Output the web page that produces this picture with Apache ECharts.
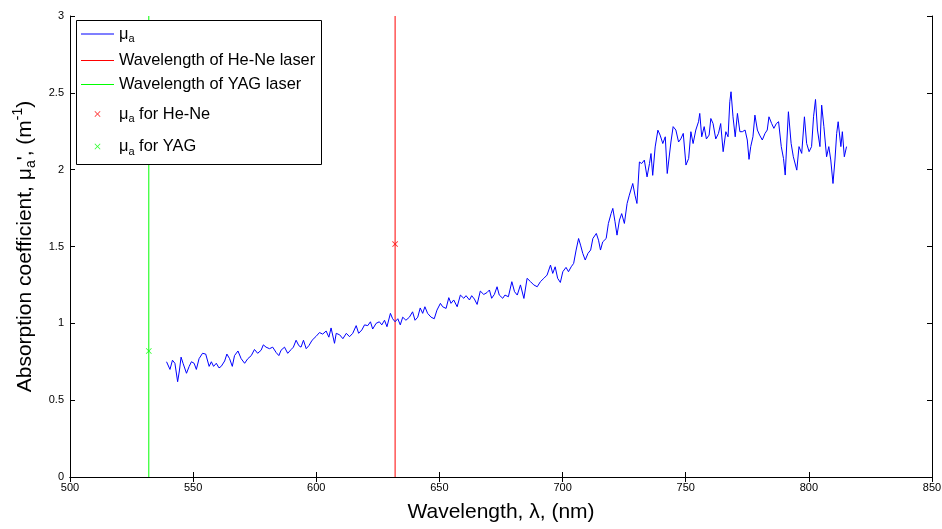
<!DOCTYPE html>
<html>
<head>
<meta charset="utf-8">
<script src="https://cdn.jsdelivr.net/npm/echarts@6/dist/echarts.min.js"></script>
<style>html,body{margin:0;padding:0;background:#fff}#c{width:942px;height:529px}</style>
</head>
<body>
<div id="c"></div>
<script>
// Wavelength (nm) of the measured absorption spectrum
const wavelengths = [539.2,540.6,541.6,542.6,543.7,544.4,545.1,545.9,547.3,548.4,549.3,550.4,551.3,552.4,553.8,555.1,556.5,557.4,558.3,559.4,560.5,561.4,562.8,563.7,564.8,565.9,566.8,568.2,569.5,570.9,572.2,573.6,574.9,576.2,577.6,578.5,579.6,581.0,582.3,583.7,584.8,585.7,587.1,588.4,589.8,590.7,591.8,592.9,593.8,594.8,595.9,597.0,598.3,599.9,601.3,602.6,604.0,605.1,606.0,607.4,608.1,609.5,610.8,612.2,613.5,614.8,616.2,617.2,618.5,619.6,620.9,622.0,622.9,624.3,625.6,626.6,627.7,628.7,630.1,631.0,632.0,633.1,634.1,635.1,636.4,637.8,639.1,640.1,641.2,642.2,643.2,644.1,645.2,646.6,647.9,649.0,650.4,651.3,652.7,653.8,654.7,655.8,657.2,658.5,659.9,660.8,662.2,663.1,664.2,665.3,666.6,668.0,669.3,670.3,671.2,672.3,673.4,674.3,675.7,676.6,678.0,679.4,680.5,681.6,682.9,684.3,685.6,687.0,688.3,689.7,691.0,692.4,693.7,695.1,696.0,697.0,698.0,699.1,700.1,701.4,702.4,703.5,704.5,705.5,706.5,707.3,708.2,709.2,710.3,711.4,712.3,713.7,714.6,715.4,716.3,717.7,718.6,719.7,720.4,721.3,722.1,723.1,724.0,725.1,726.2,727.1,728.5,729.4,730.2,731.2,732.1,733.2,734.3,735.3,735.9,736.6,737.6,738.7,739.6,740.7,741.7,742.5,744.0,744.9,746.0,747.1,748.0,749.0,750.1,751.2,752.1,753.0,754.1,755.2,755.7,756.5,757.5,758.4,759.5,760.2,761.1,762.2,763.3,764.2,765.2,766.3,767.2,767.9,768.4,769.2,770.1,771.0,772.0,773.0,774.1,775.0,775.7,776.4,777.3,778.1,779.1,780.0,781.1,782.2,783.1,783.8,784.9,785.8,786.8,787.7,788.8,789.7,790.4,791.1,791.7,792.8,793.7,795.1,796.0,797.1,798.2,799.1,800.1,801.1,801.9,802.7,803.5,804.5,805.2,806.1,807.2,808.1,808.9,809.8,810.6,811.3,811.9,813.0,813.6,814.4,815.3];
// Absorption coefficient mu_a (1/m)
const absorption = [0.75,0.70,0.76,0.74,0.62,0.69,0.78,0.74,0.675,0.72,0.75,0.74,0.70,0.77,0.805,0.80,0.72,0.75,0.72,0.74,0.71,0.72,0.755,0.80,0.77,0.72,0.79,0.82,0.77,0.74,0.77,0.79,0.83,0.805,0.825,0.86,0.845,0.835,0.845,0.81,0.79,0.825,0.845,0.805,0.83,0.845,0.89,0.855,0.845,0.89,0.835,0.855,0.89,0.915,0.94,0.93,0.95,0.91,0.97,0.87,0.935,0.925,0.90,0.935,0.913,0.935,0.985,0.935,0.957,0.99,0.985,1.01,0.963,1.0,1.01,0.99,1.02,0.978,1.065,1.03,1.01,1.03,0.99,1.04,1.02,1.04,1.075,1.02,1.04,1.10,1.065,1.108,1.065,1.04,1.03,1.086,1.13,1.108,1.097,1.167,1.13,1.152,1.108,1.184,1.163,1.18,1.152,1.18,1.158,1.123,1.21,1.188,1.2,1.217,1.163,1.188,1.238,1.184,1.163,1.184,1.173,1.271,1.206,1.184,1.25,1.162,1.293,1.271,1.25,1.238,1.271,1.293,1.314,1.379,1.325,1.368,1.293,1.266,1.336,1.364,1.336,1.368,1.39,1.477,1.552,1.509,1.455,1.412,1.455,1.477,1.552,1.585,1.541,1.477,1.53,1.552,1.65,1.714,1.748,1.661,1.574,1.672,1.714,1.65,1.78,1.834,1.91,1.834,1.78,2.05,2.04,2.062,1.953,2.04,2.105,1.963,2.148,2.257,2.225,2.17,2.214,1.975,2.18,2.28,2.258,2.18,2.2,2.236,2.03,2.073,2.247,2.17,2.258,2.312,2.366,2.214,2.28,2.2,2.225,2.333,2.3,2.2,2.236,2.3,2.117,2.247,2.214,2.442,2.507,2.344,2.214,2.366,2.247,2.247,2.258,2.193,2.067,2.15,2.214,2.355,2.258,2.225,2.193,2.236,2.258,2.344,2.3,2.269,2.3,2.312,2.15,2.073,1.965,2.193,2.377,2.171,2.084,1.997,2.15,2.106,2.344,2.171,2.117,2.15,2.344,2.457,2.258,2.15,2.42,2.28,2.084,2.15,2.063,1.91,2.063,2.236,2.312,2.15,2.247,2.084,2.15];

// Laser wavelengths (nm) and mu_a at those wavelengths
const heNeWavelength = 632;
const yagWavelength = 532;
const heNeMu = 1.516;
const yagMu = 0.82;

// Axis ranges and ticks
const xMin = 500, xMax = 850, xStep = 50;
const yMin = 0, yMax = 3, yStep = 0.5;

const xPath = 'path://M0,1L1,0L5,4L9,0L10,1L6,5L10,9L9,10L5,6L1,10L0,9L4,5Z';
const boxCorners = 'M0,0L0.01,0L0,0.01Z M33,14L32.99,14L33,13.99Z ';
const xLegendIcon = 'path://' + boxCorners + 'M13.5,4.6L14.1,4L16.5,6.4L18.9,4L19.5,4.6L17.1,7L19.5,9.4L18.9,10L16.5,7.6L14.1,10L13.5,9.4L15.9,7Z';
const lineLegendIcon = 'path://' + boxCorners + 'M0,6.5L33,6.5L33,7.5L0,7.5Z';

const curve = wavelengths.map((w, i) => [w, absorption[i]]);

const font = "'Liberation Sans', Arial, sans-serif";
const tickFont = "'Liberation Sans Narrow', 'Liberation Sans', Arial, sans-serif";

const legendNames = {
  mu: '{t|μ}{sub|a}',
  hene: '{t|Wavelength of He-Ne laser}',
  yag: '{t|Wavelength of YAG laser}',
  muhene: '{t|μ}{sub|a}{t| for He-Ne}',
  muyag: '{t|μ}{sub|a}{t| for YAG}'
};

const legendText = {
  color: '#000', fontFamily: font, fontSize: 16.4,
  rich: {
    t: {fontSize: 16.4, fontFamily: font, color: '#000'},
    sub: {fontSize: 11, fontFamily: font, color: '#000', padding: [10, 0, 0, 0]}
  }
};
const legendCommon = {
  orient: 'vertical', left: 76,
  padding: [6, 6, 4, 5],
  itemWidth: 33, itemHeight: 14,
  backgroundColor: 'transparent', borderWidth: 0,
  formatter: n => legendNames[n],
  textStyle: legendText,
  z: 20
};

const chart = echarts.init(document.getElementById('c'), null, {renderer: 'canvas'});
const tickStyle = {show: true, inside: true, length: 5, lineStyle: {color: '#000', width: 1}};
const lineStyleAxis = {show: true, lineStyle: {color: '#000', width: 1}};

chart.setOption({
  animation: false,
  backgroundColor: '#fff',
  grid: {left: 70, right: 10, top: 16, bottom: 52, outerBoundsMode: 'none', containLabel: false, show: false},
  graphic: [{
    type: 'rect', z: 15,
    shape: {x: 76.5, y: 20.5, width: 245, height: 144},
    style: {fill: '#fff', stroke: '#000', lineWidth: 1}
  }],
  legend: [
    Object.assign({}, legendCommon, {
      top: 20, itemGap: 8,
      data: [{name: 'mu', icon: lineLegendIcon}, {name: 'hene', icon: lineLegendIcon}, {name: 'yag', icon: lineLegendIcon}]
    }),
    Object.assign({}, legendCommon, {
      top: 100, itemGap: 14,
      data: [{name: 'muhene', icon: xLegendIcon}, {name: 'muyag', icon: xLegendIcon}]
    })
  ],
  xAxis: [{
    type: 'value', min: xMin, max: xMax, interval: xStep,
    position: 'bottom',
    axisLine: lineStyleAxis, axisTick: tickStyle, splitLine: {show: false},
    axisLabel: {color: '#000', fontFamily: tickFont, fontSize: 11, margin: 5},
    name: 'Wavelength, λ, (nm)',
    nameLocation: 'middle', nameGap: 25,
    nameTextStyle: {color: '#000', fontFamily: font, fontSize: 21}
  }, {
    type: 'value', min: xMin, max: xMax, interval: xStep,
    position: 'top',
    axisLine: lineStyleAxis, axisTick: tickStyle, splitLine: {show: false},
    axisLabel: {show: false}
  }],
  yAxis: [{
    type: 'value', min: yMin, max: yMax, interval: yStep,
    position: 'left',
    axisLine: lineStyleAxis, axisTick: tickStyle, splitLine: {show: false},
    axisLabel: {color: '#000', fontFamily: tickFont, fontSize: 11, margin: 6},
    name: '{t|Absorption coefficient, μ}{sub|a}{t|\', (m}{sup|-1}{t|)}',
    nameLocation: 'middle', nameGap: 20,
    nameTextStyle: {
      color: '#000', fontFamily: font, fontSize: 21,
      rich: {
        t: {fontSize: 21, fontFamily: font, color: '#000'},
        sub: {fontSize: 14, fontFamily: font, color: '#000', padding: [12, 0, 0, 0]},
        sup: {fontSize: 14, fontFamily: font, color: '#000', padding: [0, 0, 14, 0]}
      }
    }
  }, {
    type: 'value', min: yMin, max: yMax, interval: yStep,
    position: 'right',
    axisLine: lineStyleAxis, axisTick: tickStyle, splitLine: {show: false},
    axisLabel: {show: false}
  }],
  series: [
    {
      name: 'mu', type: 'line', data: curve, symbol: 'none',
      lineStyle: {color: '#0000ff', width: 1}, itemStyle: {color: '#0000ff'}, z: 3
    },
    {
      name: 'hene', type: 'line', symbol: 'none',
      data: [[heNeWavelength, yMin], [heNeWavelength, yMax]],
      lineStyle: {color: '#ff0000', width: 1}, itemStyle: {color: '#ff0000'}, z: 2
    },
    {
      name: 'yag', type: 'line', symbol: 'none',
      data: [[yagWavelength, yMin], [yagWavelength, yMax]],
      lineStyle: {color: '#00ff00', width: 1}, itemStyle: {color: '#00ff00'}, z: 2
    },
    {
      name: 'muhene', type: 'scatter', symbol: xPath, symbolSize: 6,
      data: [[heNeWavelength, heNeMu]], itemStyle: {color: '#ff0000'}, z: 4
    },
    {
      name: 'muyag', type: 'scatter', symbol: xPath, symbolSize: 6,
      data: [[yagWavelength, yagMu]], itemStyle: {color: '#00ff00'}, z: 4
    }
  ]
});
</script>
</body>
</html>
